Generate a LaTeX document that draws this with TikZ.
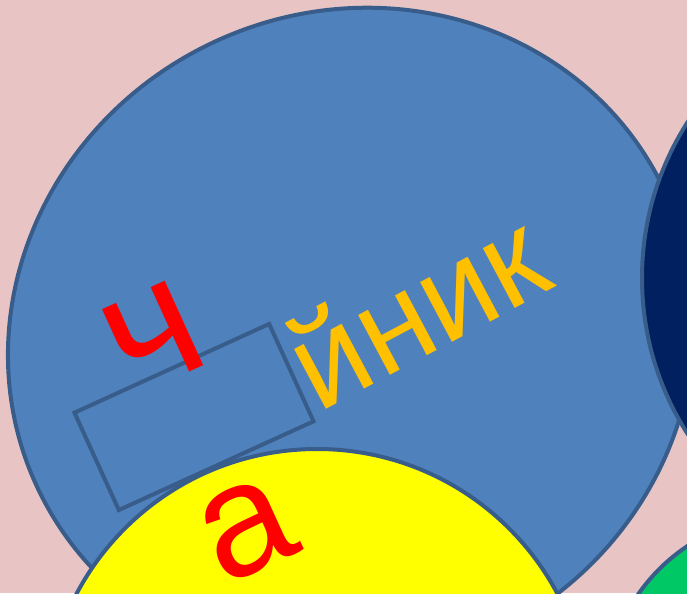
\documentclass[tikz,border=0pt]{standalone}
\usepackage{fontspec}
\setmainfont{Liberation Sans}
\usepackage{xcolor}
\definecolor{tissuepink}{RGB}{232,196,196}
\definecolor{potblue}{HTML}{4F81BD}
\definecolor{potedge}{HTML}{385D8A}
\definecolor{potnavy}{HTML}{002060}
\definecolor{potyellow}{HTML}{FFFF00}
\definecolor{potgreen}{HTML}{00C864}
\definecolor{potred}{HTML}{FF0000}
\definecolor{potorange}{HTML}{FFC000}
\usepackage{tikz}
\usetikzlibrary{positioning}

\begin{document}
\begin{tikzpicture}[x=0.02cm,y=0.02cm,
                      disc/.style={draw=potedge,line width=0.08cm},
                      letter/.style={inner sep=0pt,anchor=base}]
    \useasboundingbox (0,0) rectangle (687,593);
    \clip (0,0) rectangle (687,593);
    \fill[tissuepink] (0,0) rectangle (687,593);
    \draw[disc,fill=potblue,rotate around={27:(351,254)}] (351,254) ellipse [x radius=347,y radius=327];
    \draw[disc,fill=potnavy] (931,315) circle [radius=289];
    \draw[disc,rotate around={24.5:(194,176)}] (87,122.5) rectangle ++(214,107);
    \draw[disc,fill=potyellow] (317,-128) circle [radius=272];
    \draw[disc,fill=potgreen] (790,-107) circle [radius=185];
    \node[letter,rotate=24.5,text=potred,font=\fontsize{100}{100}\selectfont] (che) at (173,213) {ч};
    \node[letter,rotate=24.5,text=potred,font=\fontsize{91}{91}\selectfont] (aa) at (264,25) {а};
    \node[letter,rotate=28,text=potorange,font=\fontsize{73}{73}\selectfont] (ynik) at (438,243) {йник};
  \end{tikzpicture}
\end{document}
